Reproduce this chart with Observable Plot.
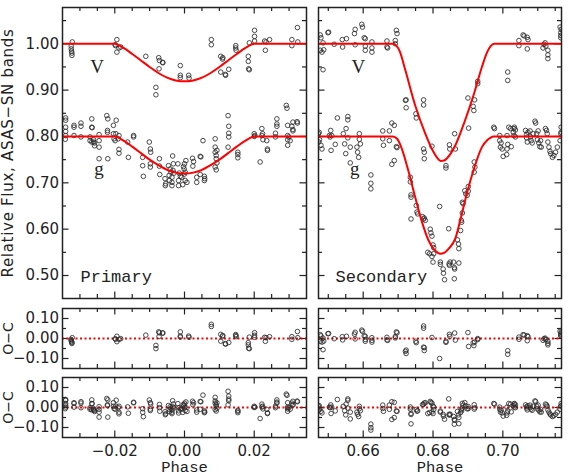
<!DOCTYPE html>
<html>
<head>
<meta charset="utf-8">
<script src="https://cdn.jsdelivr.net/npm/d3@7"></script>
<script src="https://cdn.jsdelivr.net/npm/@observablehq/plot@0.6"></script>
<style>
  html, body { margin: 0; padding: 0; background: #fff; }
  #chart { position: relative; width: 568px; height: 476px; background: #fff; }
  #chart > div { position: absolute; }
</style>
</head>
<body>
<div id="chart"></div>
<script>
// ---------- data (phase, relative flux) ----------
const primaryV = [
  [-0.0325,0.995],[-0.0325,0.989],[-0.0324,0.984],[-0.0323,0.980],[-0.0323,0.975],[-0.0322,1.004],
  [-0.0199,0.998],[-0.0194,1.009],[-0.0194,0.982],[-0.0188,0.991],[-0.0183,0.993],[-0.0198,0.996],
  [-0.0111,0.973],
  [-0.0074,0.970],[-0.0072,0.964],[-0.0063,0.960],[-0.0062,0.959],[-0.0073,0.946],
  [-0.0082,0.906],[-0.0082,0.890],
  [-0.0012,0.953],[-0.0012,0.932],[-0.0012,0.927],
  [0.0012,0.932],[0.0013,0.926],
  [0.0077,1.009],[0.0077,0.998],
  [0.0104,0.973],[0.0109,0.967],[0.0110,0.970],[0.0104,0.939],[0.0117,0.934],[0.0118,0.932],[0.0127,0.945],
  [0.0147,0.996],[0.0147,0.991],[0.0148,0.986],
  [0.0183,0.973],[0.0183,0.962],[0.0184,0.946],[0.0186,0.944],[0.0186,1.002],
  [0.0201,1.029],[0.0201,1.016],[0.0201,1.006],
  [0.0230,1.006],[0.0234,1.004],[0.0244,1.009],[0.0232,0.986],
  [0.0308,1.009],[0.0308,0.996],[0.0324,1.035],[0.0325,1.004]
];
const primaryG = [
  [-0.0341,0.840],[-0.0341,0.835],[-0.0341,0.820],[-0.0341,0.811],[-0.0341,0.802],[-0.0342,0.794],
  [-0.0317,0.824],[-0.0317,0.820],[-0.0317,0.802],
  [-0.0297,0.829],[-0.0297,0.822],[-0.0297,0.799],
  [-0.0266,0.838],[-0.0266,0.820],[-0.0265,0.819],[-0.0271,0.799],[-0.0271,0.791],[-0.0266,0.788],
  [-0.0261,0.793],[-0.0261,0.788],[-0.0258,0.786],[-0.0258,0.780],
  [-0.0245,0.804],[-0.0245,0.791],[-0.0245,0.777],[-0.0245,0.752],
  [-0.0223,0.845],[-0.0220,0.838],[-0.0221,0.813],[-0.0221,0.809],[-0.0220,0.752],
  [-0.0204,0.824],[-0.0204,0.806],[-0.0202,0.795],[-0.0199,0.791],[-0.0196,0.835],[-0.0197,0.806],
  [-0.0190,0.795],[-0.0188,0.772],[-0.0188,0.764],[-0.0188,0.802],
  [-0.0163,0.788],[-0.0161,0.755],
  [-0.0146,0.802],[-0.0146,0.799],
  [-0.0120,0.755],[-0.0120,0.737],[-0.0118,0.714],
  [-0.0101,0.788],[-0.0098,0.773],[-0.0097,0.766],[-0.0098,0.741],[-0.0098,0.734],
  [-0.0072,0.752],[-0.0072,0.736],[-0.0071,0.718],
  [-0.0056,0.709],[-0.0055,0.694],[-0.0054,0.698],
  [-0.0046,0.737],[-0.0044,0.716],[-0.0043,0.705],[-0.0041,0.730],[-0.0039,0.723],[-0.0036,0.712],
  [-0.0036,0.701],[-0.0036,0.694],[-0.0034,0.758],[-0.0033,0.727],[-0.0032,0.741],[-0.0030,0.721],
  [-0.0019,0.741],[-0.0017,0.705],[-0.0017,0.694],[-0.0015,0.721],[-0.0012,0.714],[-0.0008,0.712],
  [-0.0005,0.696],[-0.0003,0.735],[-0.0001,0.730],[0.0000,0.719],[0.0002,0.705],[0.0002,0.723],
  [0.0004,0.748],[0.0007,0.701],[0.0000,0.741],
  [0.0023,0.753],[0.0026,0.746],[0.0024,0.736],
  [0.0035,0.701],[0.0035,0.712],
  [0.0045,0.757],[0.0045,0.718],[0.0047,0.756],
  [0.0053,0.791],
  [0.0057,0.714],[0.0057,0.705],[0.0058,0.709],
  [0.0088,0.795],[0.0088,0.777],[0.0088,0.766],[0.0091,0.759],[0.0091,0.752],[0.0088,0.734],
  [0.0091,0.728],[0.0093,0.770],[0.0093,0.743],
  [0.0125,0.845],[0.0127,0.822],[0.0127,0.807],[0.0127,0.799],[0.0125,0.777],
  [0.0153,0.766],[0.0153,0.761],[0.0153,0.754],
  [0.0200,0.806],[0.0200,0.800],[0.0202,0.802],
  [0.0222,0.802],[0.0224,0.806],[0.0217,0.745],[0.0222,0.817],[0.0225,0.793],[0.0236,0.791],
  [0.0238,0.773],[0.0238,0.770],
  [0.0261,0.807],[0.0261,0.799],[0.0265,0.838],[0.0265,0.822],[0.0265,0.827],
  [0.0292,0.867],[0.0294,0.861],[0.0296,0.824],[0.0296,0.802],[0.0296,0.793],[0.0299,0.799],
  [0.0303,0.791],[0.0296,0.781],
  [0.0308,0.822],[0.0311,0.831],[0.0311,0.815],[0.0311,0.812],
  [0.0323,0.832],[0.0324,0.829]
];
const secondaryV = [
  [0.6477,1.019],[0.6479,1.013],[0.6477,0.986],[0.6482,0.982],[0.6485,1.002],[0.6487,0.987],[0.6485,0.944],
  [0.6501,1.025],[0.6499,1.024],
  [0.6517,0.999],
  [0.6540,1.009],[0.6541,0.993],[0.6552,1.011],
  [0.6575,1.022],[0.6577,1.031],[0.6577,0.998],
  [0.6596,1.042],[0.6598,1.036],[0.6603,1.013],[0.6606,1.011],[0.6606,0.995],[0.6606,0.986],
  [0.6625,1.004],[0.6625,0.991],[0.6625,0.982],
  [0.6668,1.006],[0.6668,0.993],[0.6670,0.991],
  [0.6692,1.007],[0.6692,1.000],[0.6695,1.029],[0.6697,1.022],
  [0.6721,0.878],[0.6723,0.862],[0.6723,0.879],
  [0.6751,0.849],[0.6752,0.840],
  [0.6773,0.879],[0.6773,0.868],
  [0.6773,0.773],[0.6775,0.766],[0.6775,0.752],
  [0.6797,0.779],
  [0.6819,0.649],
  [0.6837,0.737],[0.6837,0.732],
  [0.6847,0.782],[0.6848,0.773],
  [0.6862,0.806],[0.6864,0.773],
  [0.6900,0.883],[0.6902,0.818],
  [0.6915,0.865],[0.6917,0.856],[0.6919,0.879],[0.6928,0.919],[0.6928,0.914],
  [0.7014,0.939],[0.7014,0.921],
  [0.7046,1.007],[0.7046,0.996],[0.7058,1.019],[0.7061,1.017],[0.7070,1.014],[0.7072,1.009],[0.7070,0.989],
  [0.7115,0.991],[0.7118,0.999],[0.7121,1.002],[0.7123,0.995],[0.7129,0.986],[0.7129,0.976],[0.7129,0.968],
  [0.7164,1.036],[0.7166,1.024],[0.7166,1.018],[0.7166,1.013],[0.7167,1.031]
];
const secondaryG = [
  [0.6472,0.806],[0.6474,0.809],[0.6475,0.793],[0.6479,0.781],[0.6482,0.773],[0.6473,0.788],
  [0.6503,0.802],[0.6505,0.799],[0.6507,0.813],[0.6508,0.770],[0.6510,0.802],
  [0.6520,0.783],[0.6526,0.840],
  [0.6543,0.806],[0.6547,0.784],[0.6550,0.763],
  [0.6551,0.817],[0.6556,0.843],[0.6556,0.836],[0.6556,0.797],
  [0.6563,0.777],[0.6563,0.743],
  [0.6582,0.777],[0.6584,0.766],[0.6587,0.755],[0.6589,0.794],[0.6589,0.806],[0.6592,0.784],
  [0.6622,0.717],[0.6622,0.699],[0.6622,0.687],
  [0.6656,0.812],[0.6656,0.795],[0.6658,0.781],
  [0.6675,0.812],[0.6675,0.791],
  [0.6682,0.829],[0.6689,0.824],[0.6682,0.740],[0.6689,0.748],
  [0.6695,0.778],[0.6697,0.776],
  [0.6735,0.712],[0.6735,0.702],[0.6737,0.674],[0.6737,0.669],[0.6737,0.622],
  [0.6752,0.651],[0.6754,0.637],[0.6756,0.633],
  [0.6770,0.627],[0.6773,0.622],[0.6775,0.624],[0.6778,0.619],
  [0.6792,0.600],[0.6794,0.592],[0.6797,0.585],[0.6800,0.566],[0.6802,0.560],
  [0.6785,0.550],[0.6790,0.547],[0.6797,0.541],
  [0.6800,0.529],[0.6802,0.547],
  [0.6821,0.529],[0.6821,0.524],
  [0.6829,0.514],[0.6830,0.505],[0.6833,0.491],
  [0.6845,0.601],
  [0.6846,0.525],[0.6847,0.522],[0.6849,0.529],
  [0.6859,0.529],[0.6861,0.517],[0.6862,0.514],[0.6874,0.527],[0.6861,0.493],
  [0.6870,0.577],[0.6873,0.568],[0.6874,0.558],
  [0.6879,0.597],[0.6881,0.619],[0.6882,0.615],[0.6884,0.635],[0.6886,0.655],[0.6884,0.658],
  [0.6891,0.683],[0.6894,0.676],[0.6898,0.673],[0.6901,0.682],[0.6901,0.692],
  [0.6918,0.745],[0.6920,0.734],[0.6918,0.723],
  [0.6974,0.820],[0.6976,0.817],[0.6991,0.802],[0.6991,0.791],[0.6995,0.786],[0.6993,0.777],
  [0.6998,0.773],[0.7001,0.757],[0.7011,0.761],[0.7012,0.773],[0.7014,0.783],[0.7012,0.802],
  [0.7017,0.820],[0.7022,0.817],[0.7024,0.778],[0.7030,0.809],[0.7032,0.817],[0.7033,0.820],
  [0.7036,0.814],[0.7032,0.802],[0.7036,0.799],
  [0.7065,0.813],[0.7068,0.804],[0.7068,0.797],[0.7070,0.788],[0.7072,0.809],[0.7078,0.812],
  [0.7079,0.799],[0.7081,0.791],[0.7084,0.786],[0.7087,0.806],
  [0.7092,0.833],[0.7094,0.829],[0.7097,0.806],[0.7099,0.793],[0.7101,0.812],[0.7103,0.786],
  [0.7106,0.778],[0.7108,0.791],[0.7110,0.777],
  [0.7122,0.817],[0.7125,0.813],[0.7127,0.806],[0.7129,0.788],[0.7132,0.777],[0.7135,0.768],
  [0.7137,0.763],[0.7142,0.755],[0.7146,0.759],[0.7151,0.766],[0.7156,0.777],[0.7164,0.791],
  [0.7166,0.806],[0.7167,0.820],[0.7167,0.809]
];

// ---------- model curves (phase, flux) ----------
const primaryVModel = [
  [-0.035,1.000],[-0.020,1.000],[-0.0175,0.991],[-0.015,0.978],[-0.0125,0.964],[-0.010,0.950],
  [-0.0075,0.937],[-0.005,0.927],[-0.0025,0.921],[0.000,0.919],[0.0025,0.921],[0.005,0.927],
  [0.0075,0.937],[0.010,0.950],[0.0125,0.964],[0.015,0.978],[0.0175,0.991],[0.020,1.000],[0.035,1.000]
];
const primaryGModel = [
  [-0.035,0.800],[-0.020,0.800],[-0.0175,0.791],[-0.015,0.778],[-0.0125,0.764],[-0.010,0.750],
  [-0.0075,0.738],[-0.005,0.728],[-0.0025,0.722],[0.000,0.720],[0.0025,0.722],[0.005,0.728],
  [0.0075,0.738],[0.010,0.750],[0.0125,0.764],[0.015,0.778],[0.0175,0.791],[0.020,0.800],[0.035,0.800]
];
const secondaryVModel = [
  [0.6472,1.000],[0.6685,1.000],[0.6695,0.996],[0.6705,0.983],[0.6720,0.945],[0.6749,0.867],
  [0.6777,0.808],[0.6801,0.767],[0.6812,0.754],[0.6822,0.747],[0.6832,0.748],[0.6840,0.753],
  [0.6864,0.781],[0.6889,0.829],[0.6916,0.889],[0.6940,0.950],[0.6955,0.982],[0.6965,0.995],
  [0.6975,1.000],[0.7168,1.000]
];
const secondaryGModel = [
  [0.6472,0.800],[0.6685,0.800],[0.6697,0.795],[0.6710,0.775],[0.6729,0.727],[0.6749,0.669],
  [0.6767,0.619],[0.6787,0.576],[0.6801,0.558],[0.6812,0.550],[0.6821,0.547],[0.6832,0.549],
  [0.6845,0.558],[0.6864,0.580],[0.6878,0.619],[0.6897,0.677],[0.6916,0.727],[0.6940,0.777],
  [0.6955,0.792],[0.6964,0.797],[0.6973,0.800],[0.7168,0.800]
];

// ---------- ticks ----------
const primaryXMajor = [-0.02, 0.00, 0.02];
const primaryXMinor = [-0.03,-0.025,-0.015,-0.01,-0.005,0.005,0.01,0.015,0.025,0.03];
const secondaryXMajor = [0.66, 0.68, 0.70];
const secondaryXMinor = [0.65,0.655,0.665,0.67,0.675,0.685,0.69,0.695,0.705,0.71,0.715];
const fluxMajor = [0.50, 0.60, 0.70, 0.80, 0.90, 1.00];
const fluxMinor = [0.55, 0.65, 0.75, 0.85, 0.95, 1.05];
const ocMajor = [-0.10, 0.00, 0.10];
const ocMinor = [-0.05, 0.05];

const primaryDomain = [-0.035, 0.035];
const secondaryDomain = [0.6472, 0.7168];
const fluxDomain = [0.4504, 1.0783];
const ocDomain = [-0.15, 0.15];

// ---------- helpers ----------
const rows = arr => arr.map(([phase, flux]) => ({phase, flux}));
function interp(model, p) {
  for (let i = 0; i < model.length - 1; i++) {
    const [x0, y0] = model[i], [x1, y1] = model[i + 1];
    if (p >= x0 && p <= x1) return y0 + (y1 - y0) * (p - x0) / (x1 - x0);
  }
  return p < model[0][0] ? model[0][1] : model[model.length - 1][1];
}
const residuals = (obs, model) => obs.map(([phase, flux]) => ({phase, oc: flux - interp(model, phase)}));
const fmt = d3.format(".2f");
const INK = "#222";

function panel({left, top, width, height, mL, mR, mT, mB, xDomain, yDomain,
                xMajor, xMinor, yMajor, yMinor, showX, showY, yLabel, yLabelSize, yLabelSpacing, marks}) {
  const innerW = width - mL - mR, innerH = height - mT - mB;
  const t = {stroke: INK, strokeWidth: 1.2};
  const m = [
    Plot.tickX(xMinor, {x: d => d, insetTop: innerH - 4, ...t}),
    Plot.tickX(xMinor, {x: d => d, insetBottom: innerH - 4, ...t}),
    Plot.tickX(xMajor, {x: d => d, insetTop: innerH - 6.5, ...t}),
    Plot.tickX(xMajor, {x: d => d, insetBottom: innerH - 6.5, ...t}),
    Plot.tickY(yMinor, {y: d => d, insetRight: innerW - 4, ...t}),
    Plot.tickY(yMinor, {y: d => d, insetLeft: innerW - 4, ...t}),
    Plot.tickY(yMajor, {y: d => d, insetRight: innerW - 6.5, ...t}),
    Plot.tickY(yMajor, {y: d => d, insetLeft: innerW - 6.5, ...t}),
    ...marks,
    Plot.frame({stroke: INK, strokeWidth: 1.5})
  ];
  if (showX) {
    m.push(Plot.axisX({ticks: xMajor, tickSize: 0, tickPadding: 8, tickFormat: fmt,
                       fontSize: 15, fill: INK, label: null}));
    m.push(Plot.text(["Phase"], {frameAnchor: "bottom", lineAnchor: "bottom", dy: 34.5,
                                 fontFamily: "Liberation Mono", fontSize: 15.5, fill: INK}));
  }
  if (showY) {
    m.push(Plot.axisY({ticks: yMajor, tickSize: 0, tickPadding: 3.5, tickFormat: fmt,
                       fontSize: 15, fill: INK, label: null}));
  }
  if (yLabel) {
    m.push(Plot.text([yLabel], {frameAnchor: "left", textAnchor: "middle", lineAnchor: "middle",
                                dx: -54, rotate: -90, fontSize: yLabelSize,
                                fontFamily: "DejaVu Sans", fill: INK, className: "ylabel"}));
  }
  const svg = Plot.plot({
    width, height, marginLeft: mL, marginRight: mR, marginTop: mT, marginBottom: mB,
    x: {domain: xDomain, axis: showX ? undefined : null, label: null},
    y: {domain: yDomain, axis: showY ? undefined : null, label: null},
    style: {background: "transparent", overflow: "visible", fontFamily: "DejaVu Sans", fontSize: "15px"},
    marks: m
  });
  svg.style.overflow = "visible";
  svg.style.background = "transparent";
  if (yLabel && yLabelSpacing) {
    svg.querySelectorAll(".ylabel text").forEach(el => el.setAttribute("letter-spacing", yLabelSpacing));
  }
  const wrap = document.createElement("div");
  wrap.style.left = left + "px";
  wrap.style.top = top + "px";
  wrap.style.width = width + "px";
  wrap.style.height = height + "px";
  wrap.appendChild(svg);
  document.getElementById("chart").appendChild(wrap);
}

const dotStyle = {r: 2.3, stroke: "#2a2a2a", strokeWidth: 0.85, fill: "none", clip: true};
const curveStyle = {stroke: "#ff0000", strokeWidth: 2, curve: "monotone-x", clip: true};
const zeroStyle = {stroke: "#ff0000", strokeWidth: 2, strokeDasharray: "2,2.5"};
const curveLabel = {fontFamily: "Liberation Serif", fontSize: 19, fill: INK};
const panelName = {frameAnchor: "bottom-left", textAnchor: "start", lineAnchor: "bottom",
                   dx: 18, dy: -17, fontFamily: "Liberation Mono", fontSize: 17, fill: INK};

// ---------- top panels ----------
panel({left: 0, top: 0, width: 310, height: 302, mL: 62, mR: 4, mT: 7, mB: 4,
  xDomain: primaryDomain, yDomain: fluxDomain, xMajor: primaryXMajor, xMinor: primaryXMinor,
  yMajor: fluxMajor, yMinor: fluxMinor, showX: false, showY: true,
  yLabel: "Relative Flux, ASAS\u2212SN bands", yLabelSize: 15, yLabelSpacing: "0.7",
  marks: [
    Plot.dot(rows(primaryV), {x: "phase", y: "flux", ...dotStyle}),
    Plot.dot(rows(primaryG), {x: "phase", y: "flux", ...dotStyle}),
    Plot.line(rows(primaryVModel), {x: "phase", y: "flux", ...curveStyle}),
    Plot.line(rows(primaryGModel), {x: "phase", y: "flux", ...curveStyle}),
    Plot.text([{t: "V", x: -0.0251, y: 0.951}, {t: "g", x: -0.0245, y: 0.7305}],
              {x: "x", y: "y", text: "t", ...curveLabel}),
    Plot.text(["Primary"], panelName)
  ]});

panel({left: 314, top: 0, width: 252, height: 302, mL: 4, mR: 5, mT: 7, mB: 4,
  xDomain: secondaryDomain, yDomain: fluxDomain, xMajor: secondaryXMajor, xMinor: secondaryXMinor,
  yMajor: fluxMajor, yMinor: fluxMinor, showX: false, showY: false,
  marks: [
    Plot.dot(rows(secondaryV), {x: "phase", y: "flux", ...dotStyle}),
    Plot.dot(rows(secondaryG), {x: "phase", y: "flux", ...dotStyle}),
    Plot.line(rows(secondaryVModel), {x: "phase", y: "flux", ...curveStyle}),
    Plot.line(rows(secondaryGModel), {x: "phase", y: "flux", ...curveStyle}),
    Plot.text([{t: "V", x: 0.6586, y: 0.951}, {t: "g", x: 0.6576, y: 0.7305}],
              {x: "x", y: "y", text: "t", ...curveLabel}),
    Plot.text(["Secondary"], {...panelName, dx: 17})
  ]});

// ---------- O-C panels ----------
const ocRows = [
  {top: 304, mB: 4, height: 68, data: [[primaryV, primaryVModel], [secondaryV, secondaryVModel]], showX: false},
  {top: 373, mB: 39, height: 103, data: [[primaryG, primaryGModel], [secondaryG, secondaryGModel]], showX: true}
];
for (const row of ocRows) {
  panel({left: 0, top: row.top, width: 310, height: row.height, mL: 62, mR: 4, mT: 4, mB: row.mB,
    xDomain: primaryDomain, yDomain: ocDomain, xMajor: primaryXMajor, xMinor: primaryXMinor,
    yMajor: ocMajor, yMinor: ocMinor, showX: row.showX, showY: true,
    yLabel: "O\u2212C", yLabelSize: 14,
    marks: [
      Plot.ruleY([0], zeroStyle),
      Plot.dot(residuals(...row.data[0]), {x: "phase", y: "oc", ...dotStyle})
    ]});
  panel({left: 314, top: row.top, width: 252, height: row.height, mL: 4, mR: 5, mT: 4, mB: row.mB,
    xDomain: secondaryDomain, yDomain: ocDomain, xMajor: secondaryXMajor, xMinor: secondaryXMinor,
    yMajor: ocMajor, yMinor: ocMinor, showX: row.showX, showY: false,
    marks: [
      Plot.ruleY([0], zeroStyle),
      Plot.dot(residuals(...row.data[1]), {x: "phase", y: "oc", ...dotStyle})
    ]});
}
</script>
</body>
</html>
